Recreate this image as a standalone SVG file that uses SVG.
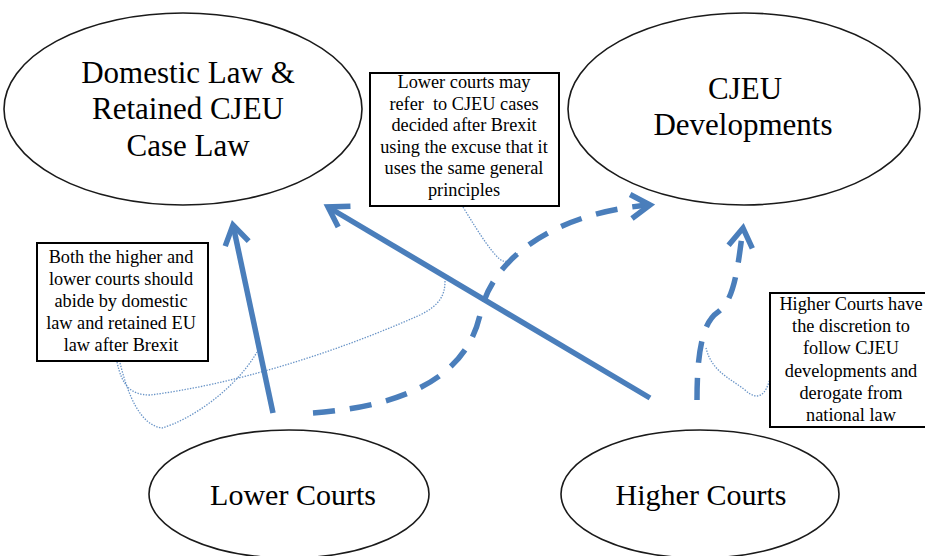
<svg xmlns="http://www.w3.org/2000/svg" width="925" height="556" viewBox="0 0 925 556">
  <style>
    .ell { fill: #ffffff; stroke: #1a1a1a; stroke-width: 1.6; }
    .box { fill: #ffffff; stroke: #000000; stroke-width: 2; }
    .big { font-family: "Liberation Serif", "Times New Roman", serif; fill: #000; text-anchor: middle; }
    .note { font-family: "Liberation Serif", "Times New Roman", serif; font-size: 18.3px; fill: #000; text-anchor: middle; }
    .solid { fill: none; stroke: #4A7EBB; stroke-width: 5.5; }
    .dash { fill: none; stroke: #4A7EBB; stroke-width: 5.5; stroke-dasharray: 22 15; }
    .dot { fill: none; stroke: #4F81BD; stroke-width: 1.3; stroke-dasharray: 1.4 1.4; opacity: 0.85; }
  </style>
  <defs>
    <marker id="chev" markerUnits="userSpaceOnUse" viewBox="0 0 30 30" markerWidth="30" markerHeight="30" refX="24" refY="15" orient="auto">
      <path d="M5,3 L24,15 L5,27" fill="none" stroke="#4A7EBB" stroke-width="5.5"/>
    </marker>
  </defs>
  <rect width="925" height="556" fill="#ffffff"/>

  <g id="domestic">
    <ellipse class="ell" cx="183" cy="109" rx="179" ry="96"/>
    <text class="big" font-size="31" x="188" y="83">Domestic Law &amp;</text>
    <text class="big" font-size="31" x="188" y="119">Retained CJEU</text>
    <text class="big" font-size="31" x="188" y="156">Case Law</text>
  </g>

  <g id="cjeu">
    <ellipse class="ell" cx="744" cy="109" rx="176" ry="96"/>
    <text class="big" font-size="31" x="745" y="99">CJEU</text>
    <text class="big" font-size="31" x="743" y="135">Developments</text>
  </g>

  <g id="lower">
    <ellipse class="ell" cx="289" cy="494" rx="140" ry="64"/>
    <text class="big" font-size="30" x="293" y="505">Lower Courts</text>
  </g>

  <g id="higher">
    <ellipse class="ell" cx="700" cy="494" rx="139" ry="64"/>
    <text class="big" font-size="30" x="701" y="505">Higher Courts</text>
  </g>

  <g id="connectors">
    <path class="solid" d="M273,413 L233,225" marker-end="url(#chev)"/>
    <path class="solid" d="M650,398 L328,207" marker-end="url(#chev)"/>
    <path class="dash" d="M313,413 C420,405 468,368 480,315 C492,255 560,212 650,205" marker-end="url(#chev)"/>
    <path class="dash" d="M697,400 C697,350 703,322 718,312 C735,300 738,265 743,228" marker-end="url(#chev)"/>

    <path class="dot" d="M463,207 C480,235 495,258 503,261 C510,263 515,258 518,252"/>
    <path class="dot" d="M770,378 C766,395 758,402 745,390 C730,378 712,372 706,348"/>
    <path class="dot" d="M117,362 C122,385 130,395 150,395 C230,385 330,355 420,315 C440,305 445,295 445,281"/>
    <path class="dot" d="M120,363 C128,395 140,425 162,428 C190,420 235,390 257,352"/>
  </g>

  <g id="note-lower">
    <rect class="box" x="370" y="73" width="189" height="133"/>
    <text class="note" x="464" y="88">Lower courts may</text>
    <text class="note" x="464" y="109.6" xml:space="preserve">refer  to CJEU cases</text>
    <text class="note" x="464" y="131.2">decided after Brexit</text>
    <text class="note" x="464" y="152.8">using the excuse that it</text>
    <text class="note" x="464" y="174.4">uses the same general</text>
    <text class="note" x="464" y="196">principles</text>
  </g>

  <g id="note-both">
    <rect class="box" x="37" y="243" width="171" height="118"/>
    <text class="note" x="121" y="263">Both the higher and</text>
    <text class="note" x="121" y="285">lower courts should</text>
    <text class="note" x="121" y="307">abide by domestic</text>
    <text class="note" x="121" y="329">law and retained EU</text>
    <text class="note" x="121" y="351">law after Brexit</text>
  </g>

  <g id="note-higher">
    <rect class="box" x="770" y="293" width="165" height="134"/>
    <text class="note" x="851" y="310">Higher Courts have</text>
    <text class="note" x="851" y="332">the discretion to</text>
    <text class="note" x="851" y="354">follow CJEU</text>
    <text class="note" x="851" y="377">developments and</text>
    <text class="note" x="851" y="399">derogate from</text>
    <text class="note" x="851" y="421">national law</text>
  </g>
</svg>
